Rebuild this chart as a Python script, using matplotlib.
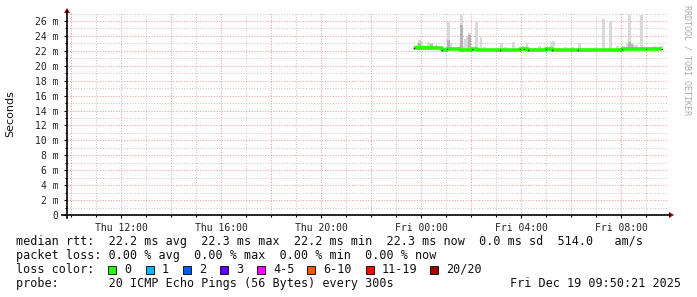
import matplotlib
matplotlib.use("Agg")
import matplotlib.pyplot as plt
from matplotlib.lines import Line2D
from matplotlib.patches import Rectangle, Polygon
import numpy as np

W, H = 697, 297

# ---- data (hours since Thu 00:00, values in ms) ----
median_seg_start = [23.70, 24.85, 25.04, 25.55, 26.05, 26.25, 27.17, 27.97, 28.29, 29.01, 29.25, 30.29, 32.05, 33.01]
median_seg_value = [22.33, 22.12, 22.30, 22.17, 22.30, 22.18, 22.15, 22.28, 22.16, 22.25, 22.15, 22.15, 22.28, 22.22]
median_end = 33.65
step_marks = [23.70, 24.85, 25.04, 26.05, 27.17, 27.97, 28.13, 28.29, 29.01, 29.25, 30.29, 32.05, 33.01, 33.65]

smoke_times = [23.69, 23.77, 23.85, 23.89, 23.97, 24.05, 24.25, 24.33, 24.37, 24.53, 25.05, 25.13, 25.49, 25.57,
               25.65, 25.73, 25.81, 25.89, 26.17, 26.35, 26.49, 27.17, 27.33, 27.65, 28.01, 28.19, 28.69, 28.97,
               29.17, 29.25, 29.73, 30.01, 30.29, 30.95, 31.25, 31.53, 31.81, 32.05, 32.21, 32.29, 32.37,
               32.45, 32.57, 32.77, 33.17, 33.29, 33.37, 33.45, 33.57]
smoke_tops = [22.6, 22.8, 23.1, 23.45, 23.2, 22.8, 23.2, 23.1, 23.0, 22.8, 25.9, 23.0, 22.7, 26.8,
              22.7, 23.6, 24.0, 24.4, 25.8, 23.9, 22.5, 23.0, 22.5, 23.2, 22.7, 23.0, 22.7, 22.7,
              23.2, 23.3, 22.5, 22.5, 23.0, 22.5, 26.3, 26.0, 22.6, 22.7, 23.1, 26.8, 23.0,
              22.8, 22.8, 26.8, 22.5, 22.6, 22.5, 22.5, 22.6]
dark_times = [23.89, 24.37, 25.05, 25.57, 25.89, 32.29, 32.37]
dark_tops = [23.0, 22.9, 23.45, 25.5, 24.1, 23.2, 22.9]

y_ticks = list(range(0, 27, 2))
y_labels = ["0"] + [f"{v} m" for v in range(2, 27, 2)]
x_ticks = [12, 16, 20, 24, 28, 32]
x_labels = ["Thu 12:00", "Thu 16:00", "Thu 20:00", "Fri 00:00", "Fri 04:00", "Fri 08:00"]

loss_labels = ["0", "1", "2", "3", "4-5", "6-10", "11-19", "20/20"]
loss_colors = ["#26ff00", "#00b8ff", "#0059ff", "#5e00ff", "#ff00ff", "#ff5500", "#ff0000", "#a10000"]

MONO = "DejaVu Sans Mono"

def px(x, y):
    return (x / W, 1 - y / H)

fig = plt.figure(figsize=(W / 100, H / 100), dpi=100)
fig.patch.set_facecolor("white")
ax = fig.add_axes([67 / W, 1 - 215 / H, (668 - 67) / W, (215 - 12.8) / H])
ax.set_xlim(9.84, 33.88)
ax.set_ylim(0, 27.1)
for s in ax.spines.values():
    s.set_visible(False)

# grid
for v in np.arange(1, 27.1, 1):
    major = (int(round(v)) % 2 == 0)
    ax.axhline(v, color="#eaa0a0" if major else "#c8c8c8", lw=0.75, ls=(0, (1, 1.6)), zorder=0)
for h in range(10, 34):
    major = (h % 2 == 0)
    ax.axvline(h, color="#eaa0a0" if major else "#c8c8c8", lw=0.75, ls=(0, (1, 1.6)), zorder=0)

# smoke
step = 5 / 60
ax.bar(smoke_times, np.array(smoke_tops) - 22.1, bottom=22.1, width=step * 1.2, align="edge",
       color="#d9d9d9", lw=0, zorder=2)
ax.bar(dark_times, np.array(dark_tops) - 22.1, bottom=22.1, width=step * 1.2, align="edge",
       color="#b4b4b4", lw=0, zorder=3)

# median line
xs = list(median_seg_start) + [median_end]
ys = list(median_seg_value) + [median_seg_value[-1]]
ax.step(xs, ys, where="post", color="#26ff00", lw=2.6, zorder=4, solid_capstyle="butt")
mark_vals = []
for t in step_marks:
    idx = max(i for i, s0 in enumerate(median_seg_start) if s0 <= t + 1e-9)
    mark_vals.append(median_seg_value[idx])
ax.plot(step_marks, mark_vals, ls="none", marker="s", ms=0.9, mew=0, color="#202020", zorder=5)

# ticks
ax.set_yticks(y_ticks)
ax.set_yticklabels(y_labels, fontfamily=MONO, fontsize=7, color="#222222")
ax.set_yticks(np.arange(1, 27, 2), minor=True)
ax.set_xticks(x_ticks)
ax.set_xticklabels(x_labels, fontfamily=MONO, fontsize=7, color="#222222")
ax.set_xticks(range(10, 34), minor=True)
ax.tick_params(axis="y", which="major", direction="out", length=2, width=0.8, pad=4)
ax.tick_params(axis="y", which="minor", direction="out", length=1.5, width=0.8)
ax.tick_params(axis="x", which="major", direction="out", length=2, width=0.8, pad=4)
ax.tick_params(axis="x", which="minor", direction="out", length=1.5, width=0.8)

# axes lines with arrows
fig.add_artist(Line2D([px(62, 0)[0], px(670, 0)[0]], [px(0, 215)[1]] * 2, color="black", lw=1.2))
fig.add_artist(Line2D([px(67, 0)[0]] * 2, [px(0, 218)[1], px(0, 11)[1]], color="black", lw=1.2))
fig.add_artist(Polygon([px(669, 212), px(669, 218), px(674, 215)], closed=True, color="#a00000", lw=0))
fig.add_artist(Polygon([px(64, 13), px(70, 13), px(67, 8)], closed=True, color="#a00000", lw=0))

# labels
fig.text(*px(10, 114), "Seconds", rotation=90, ha="center", va="center", fontsize=8, color="#111111")
fig.text(*px(687, 60), "RRDTOOL / TOBI OETIKER", rotation=270, ha="center", va="center",
         fontsize=6, color="#aaaaaa", fontfamily=MONO)

rows = [
    (241.5, "median rtt:  22.2 ms avg  22.3 ms max  22.2 ms min  22.3 ms now  0.0 ms sd  514.0   am/s"),
    (255.5, "packet loss: 0.00 % avg  0.00 % max  0.00 % min  0.00 % now"),
    (283.5, "probe:       20 ICMP Echo Pings (56 Bytes) every 300s"),
]
for y, t in rows:
    fig.text(*px(16, y), t, ha="left", va="center", fontsize=8.5, fontfamily=MONO, color="#111111")
fig.text(*px(16, 269.5), "loss color:", ha="left", va="center", fontsize=8.5, fontfamily=MONO, color="#111111")
sq_x = [108, 146, 183, 220, 257, 307, 366, 430]
for x0, lab, col in zip(sq_x, loss_labels, loss_colors):
    fig.add_artist(Rectangle(px(x0, 273.5), 8 / W, 8 / H, facecolor=col, edgecolor="black", lw=0.6))
    fig.text(*px(x0 + 16, 269.5), lab, ha="left", va="center", fontsize=8.5, fontfamily=MONO, color="#111111")
fig.text(*px(681, 283.5), "Fri Dec 19 09:50:21 2025", ha="right", va="center", fontsize=8.5,
         fontfamily=MONO, color="#111111")

fig.savefig("out.png", dpi=100, facecolor="white")
